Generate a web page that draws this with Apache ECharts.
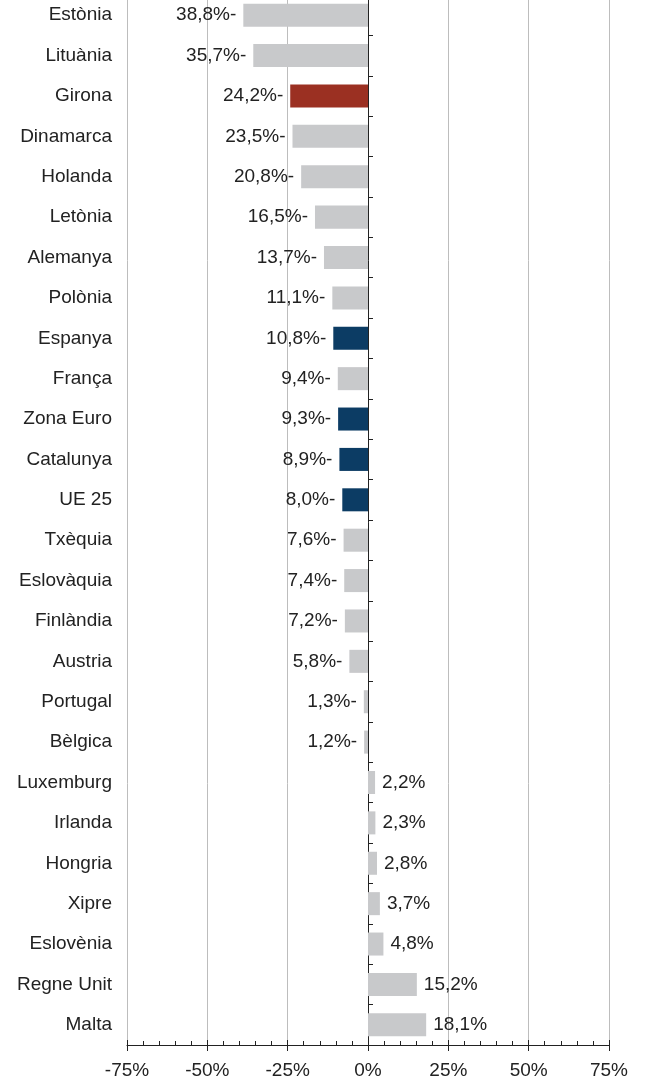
<!DOCTYPE html>
<html>
<head>
<meta charset="utf-8">
<style>
  html, body { margin: 0; padding: 0; background: #ffffff; }
  #chart { width: 646px; height: 1086px; }
</style>
<script src="https://cdn.jsdelivr.net/npm/echarts@6/dist/echarts.min.js"></script>
</head>
<body>
<div id="chart"></div>
<script>
// Territories, top to bottom
const categories = [
  'Estònia', 'Lituània', 'Girona', 'Dinamarca', 'Holanda', 'Letònia', 'Alemanya',
  'Polònia', 'Espanya', 'França', 'Zona Euro', 'Catalunya', 'UE 25', 'Txèquia',
  'Eslovàquia', 'Finlàndia', 'Austria', 'Portugal', 'Bèlgica', 'Luxemburg',
  'Irlanda', 'Hongria', 'Xipre', 'Eslovènia', 'Regne Unit', 'Malta'
];

// Percentage change per territory
const values = [
  -38.8, -35.7, -24.2, -23.5, -20.8, -16.5, -13.7,
  -11.1, -10.8, -9.4, -9.3, -8.9, -8.0, -7.6,
  -7.4, -7.2, -5.8, -1.3, -1.2, 2.2,
  2.3, 2.8, 3.7, 4.8, 15.2, 18.1
];

// Highlighted groups
const highlightRed = ['Girona'];
const highlightBlue = ['Espanya', 'Zona Euro', 'Catalunya', 'UE 25'];

// X axis ticks
const xTicks = [-75, -50, -25, 0, 25, 50, 75];

const GREY = '#c8c9cb';
const RED = '#9b3022';
const BLUE = '#0c3c64';
const FONT = '"Liberation Sans", Arial, sans-serif';
const FS = 19;

function barColor(name) {
  if (highlightRed.includes(name)) return RED;
  if (highlightBlue.includes(name)) return BLUE;
  return GREY;
}

function fmt(v) {
  return Math.abs(v).toFixed(1).replace('.', ',') + '%' + (v < 0 ? '-' : '');
}

const data = categories.map((c, i) => ({
  value: values[i],
  itemStyle: { color: barColor(c) },
  label: { position: values[i] < 0 ? 'left' : 'right' }
}));

const chart = echarts.init(document.getElementById('chart'), null, { renderer: 'canvas' });

const xCommon = {
  type: 'value',
  min: xTicks[0],
  max: xTicks[xTicks.length - 1],
  interval: 25,
  position: 'bottom'
};

chart.setOption({
  animation: false,
  backgroundColor: '#ffffff',
  grid: {
    left: 127, right: 37, top: -5, bottom: 41,
    containLabel: false, outerBoundsMode: 'none'
  },
  xAxis: [
    Object.assign({}, xCommon, {
      axisLine: { show: true, onZero: false, lineStyle: { color: '#222', width: 1 } },
      axisTick: { show: true, inside: true, length: 5, lineStyle: { color: '#222' } },
      minorTick: { show: true, splitNumber: 5, length: 4, lineStyle: { color: '#222' } },
      splitLine: { show: true, lineStyle: { color: '#bdbdbd', width: 1 } },
      axisLabel: {
        show: true, margin: 16, fontSize: FS, color: '#222', fontFamily: FONT,
        formatter: v => v + '%'
      }
    }),
    Object.assign({}, xCommon, {
      axisLine: { show: false, onZero: false },
      axisTick: { show: true, inside: false, length: 6, lineStyle: { color: '#222' } },
      splitLine: { show: false },
      axisLabel: { show: false }
    })
  ],
  yAxis: [
    {
      type: 'category',
      data: categories,
      inverse: true,
      position: 'left',
      axisLine: { show: false, onZero: false },
      axisTick: { show: false },
      axisLabel: { margin: 15, fontSize: FS, color: '#222', fontFamily: FONT }
    },
    {
      type: 'category',
      data: categories,
      inverse: true,
      position: 'right',
      axisLine: { show: true, onZero: true, onZeroAxisIndex: 0, lineStyle: { color: '#222', width: 1 } },
      axisTick: { show: true, length: 5, lineStyle: { color: '#222' } },
      axisLabel: { show: false },
      splitLine: { show: false }
    }
  ],
  series: [
    {
      type: 'bar',
      xAxisIndex: 0,
      yAxisIndex: 0,
      data: data,
      barWidth: '57%',
      label: {
        show: true,
        distance: 7,
        fontSize: FS,
        color: '#222',
        fontFamily: FONT,
        formatter: p => fmt(p.value)
      }
    }
  ]
});
</script>
</body>
</html>
